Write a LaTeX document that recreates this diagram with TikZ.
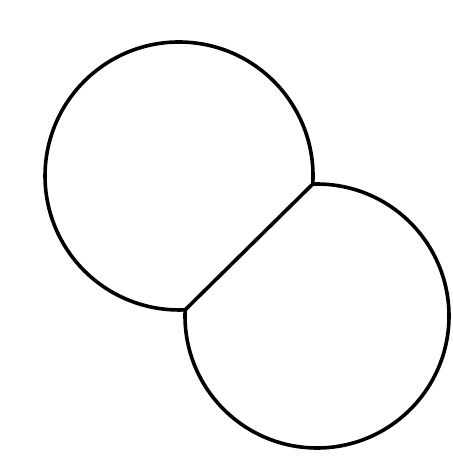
\documentclass[tikz,border=0pt]{standalone}
\usepackage{tikz}
\tikzset{rim/.style={line width=3.6pt,line join=round,line cap=round},every picture/.style={line cap=round}}
\begin{document}
\begin{tikzpicture}[x=1pt,y=1pt]
\useasboundingbox (0,0) rectangle (452,457);
\coordinate (big) at (179,281);
\coordinate (small) at (317,141);
\coordinate (meetA) at (312.76,272.94);
\coordinate (meetB) at (185.14,147.14);
\draw[rim] (meetA) arc[start angle=-3.45,end angle=272.63,radius=134]
  arc[start angle=177.33,end angle=451.84,radius=132];
\draw[rim] (meetA)--(meetB);
\end{tikzpicture}
\end{document}
